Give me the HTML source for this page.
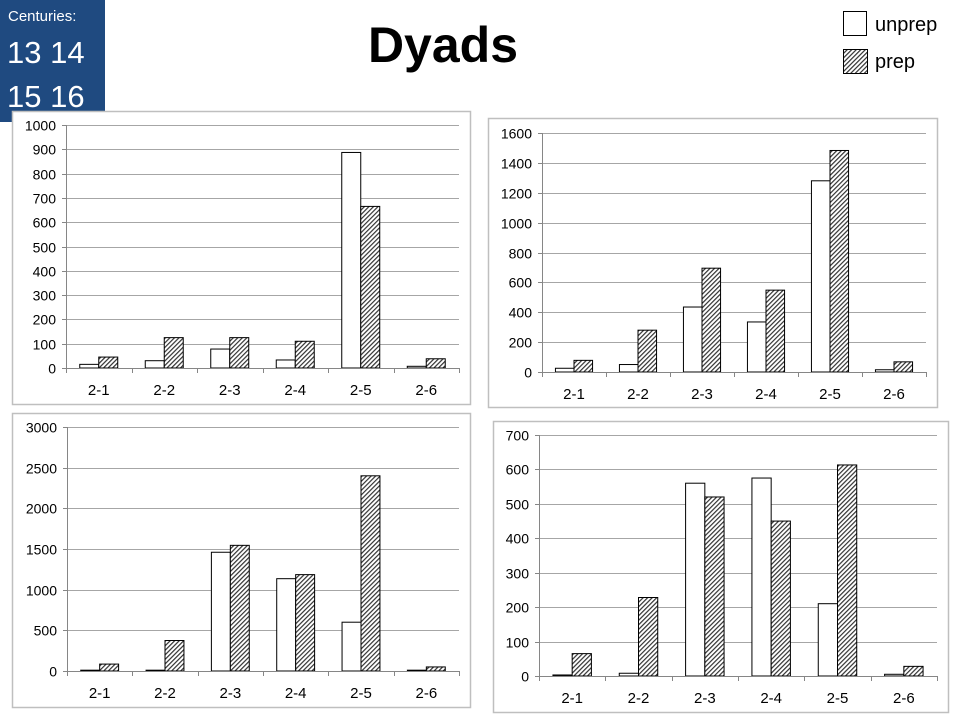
<!DOCTYPE html>
<html><head><meta charset="utf-8"><style>
html,body{margin:0;padding:0;background:#fff;}
body{width:960px;height:720px;overflow:hidden;position:relative;font-family:"Liberation Sans",sans-serif;}
svg{position:absolute;left:0;top:0;}
</style></head><body>
<svg id="main" width="960" height="720" viewBox="0 0 960 720" xmlns="http://www.w3.org/2000/svg">
<defs>
<pattern id="hatch" patternUnits="userSpaceOnUse" width="3.2" height="3.2" patternTransform="rotate(-45)">
<rect width="3.2" height="3.2" fill="#fff"/>
<rect x="0" y="0" width="3.2" height="1.2" fill="#333"/>
</pattern>
</defs>
<g>
<rect x="0" y="0" width="105" height="122" fill="#1f4a80"/>
<text x="8" y="21" font-size="15" fill="#fff" font-family="Liberation Sans, sans-serif">Centuries:</text>
<text x="7" y="63" font-size="31" fill="#fff" font-family="Liberation Sans, sans-serif">13 14</text>
<text x="7" y="107" font-size="31" fill="#fff" font-family="Liberation Sans, sans-serif">15 16</text>
</g>
<text x="443" y="62" text-anchor="middle" font-size="50" font-weight="bold" fill="#000" font-family="Liberation Sans, sans-serif">Dyads</text>
<g>
<rect x="843.5" y="11.5" width="23" height="24" fill="#fff" stroke="#000" stroke-width="1"/>
<text x="875" y="31" font-size="20" fill="#000">unprep</text>
<rect x="843.5" y="49.5" width="24" height="24" fill="url(#hatch)" stroke="#000" stroke-width="1"/>
<text x="875" y="68" font-size="20" fill="#000">prep</text>
</g>
<g id="charts"></g>
</svg>
<script>
const categories = ["2-1","2-2","2-3","2-4","2-5","2-6"];
const c13Unprep = [15,30,78,33,887,7];
const c13Prep = [45,125,125,110,665,38];
const c13Ticks = [0,100,200,300,400,500,600,700,800,900,1000];
const c14Unprep = [25,50,435,335,1280,15];
const c14Prep = [78,280,695,548,1483,68];
const c14Ticks = [0,200,400,600,800,1000,1200,1400,1600];
const c15Unprep = [10,10,1460,1135,600,10];
const c15Prep = [85,375,1545,1185,2400,50];
const c15Ticks = [0,500,1000,1500,2000,2500,3000];
const c16Unprep = [3,8,560,575,210,5];
const c16Prep = [65,228,520,450,613,28];
const c16Ticks = [0,100,200,300,400,500,600,700];

const NS = "http://www.w3.org/2000/svg";
function mk(tag, attrs, parent){
  const e = document.createElementNS(NS, tag);
  for (const k in attrs) e.setAttribute(k, attrs[k]);
  parent.appendChild(e);
  return e;
}
function drawChart(name, box, plot, ticks, unprep, prep){
  const root = document.getElementById('charts');
  const g = mk('g', {}, root);
  
  
  const frame = mk('rect', {x:box[0]+0.5, y:box[1]+0.5, width:box[2]-box[0], height:box[3]-box[1], fill:'#fff', stroke:'#bfbfbf', 'stroke-width':1.5}, g);
  
  
  const x0 = plot[0], x1 = plot[1], yTop = plot[2], yBot = plot[3];
  const maxV = ticks[ticks.length-1];
  const ys = v => yBot - (v / maxV) * (yBot - yTop);
  const cw = (x1 - x0) / categories.length;
  ticks.forEach(t => {
    const y = Math.round(ys(t)) + 0.5;
    if (t !== 0) {
      const gl = mk('line', {x1:x0, x2:x1, y1:y, y2:y, stroke:'#a6a6a6', 'stroke-width':1}, g);
      
      
    }
    const tk = mk('line', {x1:x0-4, x2:x0, y1:y, y2:y, stroke:'#868686', 'stroke-width':1}, g);
    
    
    const tl = mk('text', {x:x0-10, y:y+5, 'text-anchor':'end', 'font-size':14, fill:'#000'}, g);
    
    
    tl.textContent = t;
  });
  const ya = mk('line', {x1:x0+0.5, x2:x0+0.5, y1:yTop, y2:yBot, stroke:'#868686', 'stroke-width':1}, g);
  
  
  const bw = cw * 0.29;
  categories.forEach((c, i) => {
    const cx = x0 + cw * (i + 0.5);
    const b1 = mk('rect', {x:cx - bw, y:ys(unprep[i]), width:bw, height:yBot - ys(unprep[i]), fill:'#fff', stroke:'#000', 'stroke-width':1}, g);
    
    
    const b2 = mk('rect', {x:cx, y:ys(prep[i]), width:bw, height:yBot - ys(prep[i]), fill:'url(#hatch)', stroke:'#000', 'stroke-width':1}, g);
    
    
    const cl = mk('text', {x:cx, y:yBot + 27, 'text-anchor':'middle', 'font-size':15, fill:'#000'}, g);
    
    
    cl.textContent = c;
  });
  for (let i = 0; i <= categories.length; i++) {
    const x = Math.round(x0 + cw * i) + 0.5;
    const tk = mk('line', {x1:x, x2:x, y1:yBot, y2:yBot + 5, stroke:'#868686', 'stroke-width':1}, g);
    
    
  }
  const xa = mk('line', {x1:x0, x2:x1, y1:yBot + 0.5, y2:yBot + 0.5, stroke:'#868686', 'stroke-width':1}, g);
  
  
}
drawChart('chart-13th-century', [12,111,470,404], [66,459,125,368], c13Ticks, c13Unprep, c13Prep);
drawChart('chart-14th-century', [488,118,937,407], [542,926,133,372], c14Ticks, c14Unprep, c14Prep);
drawChart('chart-15th-century', [12,413,470,707], [67,459,427,671], c15Ticks, c15Unprep, c15Prep);
drawChart('chart-16th-century', [493,421,948,712], [539,937,435,676], c16Ticks, c16Unprep, c16Prep);
</script>
</body></html>
